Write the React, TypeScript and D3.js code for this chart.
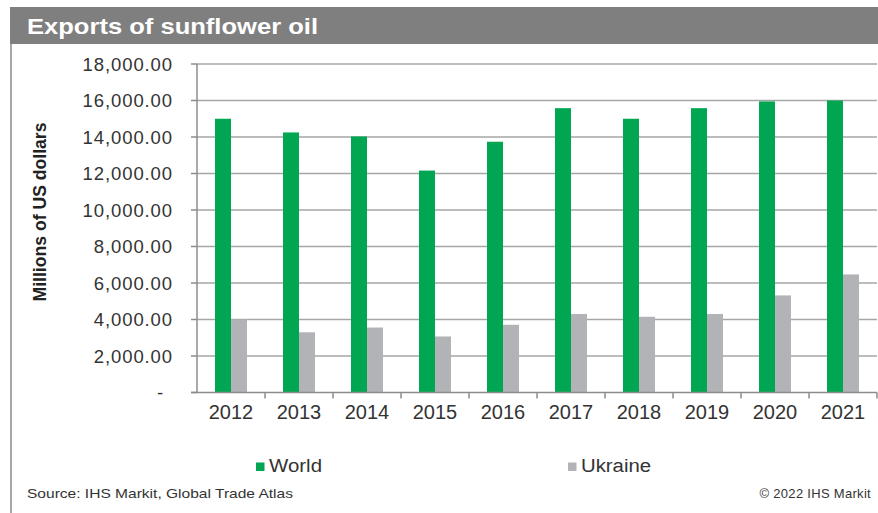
import React from "react";
import * as d3 from "d3";

const years = ["2012", "2013", "2014", "2015", "2016", "2017", "2018", "2019", "2020", "2021"];
const world = [15000, 14250, 14030, 12160, 13740, 15580, 15000, 15580, 15950, 16000];
const ukraine = [4000, 3300, 3560, 3070, 3710, 4300, 4150, 4300, 5320, 6470];
const yTicks = [0, 2000, 4000, 6000, 8000, 10000, 12000, 14000, 16000, 18000];
const seriesNames = ["World", "Ukraine"];
const seriesColors = ["#00a651", "#b2b3b6"];

const W = 878;
const H = 513;
const font = "'Liberation Sans', Arial, sans-serif";

const App = () => {
  const x0 = d3.scaleBand<string>().domain(years).range([197, 877]).padding(0);
  const x1 = d3
    .scaleBand<string>()
    .domain(seriesNames)
    .range([0, x0.bandwidth()])
    .paddingInner(0)
    .paddingOuter(1.125);
  const y = d3.scaleLinear().domain([0, 18000]).range([392.5, 64]);
  const fmt = (v: number) => (v === 0 ? "-" : d3.format(",.2f")(v));
  const series = [world, ukraine];

  return (
    <svg width={W} height={H} style={{ position: "absolute", left: 0, top: 0 }}>
      <rect x={0} y={0} width={W} height={H} fill="#fff" />
      {/* title bar */}
      <rect x={10} y={7} width={W - 10} height={37} fill="#7f7f7f" />
      <text
        x={27}
        y={34}
        fill="#fff"
        fontFamily={font}
        fontWeight="bold"
        fontSize={22}
        textLength={291}
        lengthAdjust="spacingAndGlyphs"
      >
        Exports of sunflower oil
      </text>
      <line x1={11} x2={11} y1={44} y2={H} stroke="#8a8a8a" strokeWidth={1.5} />

      {/* grid */}
      {yTicks.map((t) => (
        <g key={t}>
          {t > 0 && (
            <line x1={197} x2={877} y1={y(t)} y2={y(t)} stroke="#a6a6a6" strokeWidth={1.5} />
          )}
          <line x1={191} x2={197} y1={y(t)} y2={y(t)} stroke="#8c8c8c" strokeWidth={1.5} />
          <text
            x={t === 0 ? 164 : 173}
            y={y(t)}
            dy="0.36em"
            textAnchor="end"
            fontFamily={font}
            fontSize={18.5}
            letterSpacing={0.9}
            fill="#333"
          >
            {fmt(t)}
          </text>
        </g>
      ))}

      {/* bars */}
      {years.map((yr, i) => (
        <g key={yr} transform={`translate(${x0(yr)},0)`}>
          {seriesNames.map((s, j) => (
            <rect
              key={s}
              x={x1(s)}
              y={y(series[j][i])}
              width={x1.bandwidth()}
              height={y(0) - y(series[j][i])}
              fill={seriesColors[j]}
            />
          ))}
        </g>
      ))}

      {/* axes */}
      <line x1={197} x2={197} y1={64} y2={y(0)} stroke="#8c8c8c" strokeWidth={1.5} />
      <line x1={191} x2={877} y1={y(0)} y2={y(0)} stroke="#8c8c8c" strokeWidth={1.5} />
      {years.map((yr) => (
        <line
          key={yr}
          x1={(x0(yr) as number) + x0.bandwidth()}
          x2={(x0(yr) as number) + x0.bandwidth()}
          y1={y(0)}
          y2={y(0) + 6}
          stroke="#8c8c8c"
          strokeWidth={1.5}
        />
      ))}
      {years.map((yr) => (
        <text
          key={yr}
          x={(x0(yr) as number) + x0.bandwidth() / 2}
          y={419}
          textAnchor="middle"
          fontFamily={font}
          fontSize={20}
          fill="#333"
        >
          {yr}
        </text>
      ))}

      <text
        transform="translate(46,212) rotate(-90)"
        textAnchor="middle"
        fontFamily={font}
        fontWeight="bold"
        fontSize={18}
        textLength={179}
        lengthAdjust="spacingAndGlyphs"
        fill="#222"
      >
        Millions of US dollars
      </text>

      {/* legend */}
      {seriesNames.map((s, j) => {
        const lx = [256, 568][j];
        const tl = [53, 70][j];
        return (
          <g key={s}>
            <rect x={lx} y={462.5} width={8.5} height={8.5} fill={seriesColors[j]} />
            <text
              x={lx + 13}
              y={472}
              fontFamily={font}
              fontSize={18}
              textLength={tl}
              lengthAdjust="spacingAndGlyphs"
              fill="#333"
            >
              {s}
            </text>
          </g>
        );
      })}

      {/* footer */}
      <text
        x={27}
        y={498}
        fontFamily={font}
        fontSize={13}
        textLength={266}
        lengthAdjust="spacingAndGlyphs"
        fill="#333"
      >
        Source: IHS Markit, Global Trade Atlas
      </text>
      <text x={871} y={498} textAnchor="end" fontFamily={font} fontSize={13} letterSpacing={0.3} fill="#333">
        © 2022 IHS Markit
      </text>
    </svg>
  );
};

export default App;
